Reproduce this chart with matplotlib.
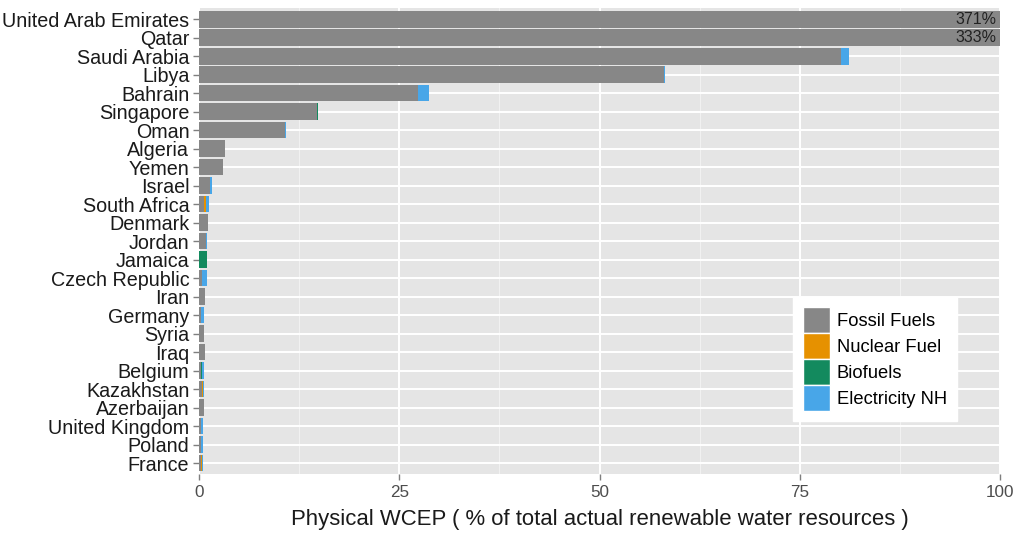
import numpy as np
import matplotlib.pyplot as plt
from matplotlib.patches import Patch

plt.rcParams['font.family'] = ['Liberation Sans', 'DejaVu Sans']

# Data (top to bottom)
countries = ['United Arab Emirates', 'Qatar', 'Saudi Arabia', 'Libya', 'Bahrain',
             'Singapore', 'Oman', 'Algeria', 'Yemen', 'Israel', 'South Africa',
             'Denmark', 'Jordan', 'Jamaica', 'Czech Republic', 'Iran', 'Germany',
             'Syria', 'Iraq', 'Belgium', 'Kazakhstan', 'Azerbaijan',
             'United Kingdom', 'Poland', 'France']
fossil = [370.0, 332.0, 80.1, 58.0, 27.3, 14.7, 10.7, 3.2, 2.95, 1.37, 0.62,
          1.16, 0.87, 0.0, 0.41, 0.79, 0.25, 0.62, 0.70, 0.25, 0.33, 0.62,
          0.30, 0.25, 0.20]
nuclear = [0, 0, 0, 0, 0, 0, 0, 0, 0, 0, 0.25, 0, 0, 0, 0, 0, 0, 0, 0, 0,
           0.22, 0, 0, 0, 0.13]
biofuels = [0, 0, 0, 0, 0, 0.2, 0, 0, 0, 0, 0, 0, 0, 1.04, 0, 0, 0, 0, 0,
            0.15, 0, 0, 0, 0, 0]
electricity = [1.0, 1.0, 1.0, 0.2, 1.45, 0, 0.2, 0.05, 0, 0.29, 0.38, 0,
               0.13, 0, 0.63, 0, 0.41, 0, 0, 0.22, 0.07, 0, 0.2, 0.3, 0.17]
totals_label = ['371%', '333%']

series = [('Fossil Fuels', fossil, '#878787'),
          ('Nuclear Fuel', nuclear, '#E69100'),
          ('Biofuels', biofuels, '#138A5E'),
          ('Electricity NH', electricity, '#48A6E8')]

fig = plt.figure(figsize=(10.16, 5.4), dpi=100)
ax = fig.add_axes([0.1959, 0.122, 0.7884, 0.863])
ax.set_facecolor('#E5E5E5')

y = np.arange(len(countries))
left = np.zeros(len(countries))
for name, vals, col in series:
    vals = np.array(vals, dtype=float)
    ax.barh(y, vals, left=left, height=0.9, color=col, edgecolor='none', zorder=3)
    left += vals

for i, lab in enumerate(totals_label):
    ax.text(99.6, y[i], lab, ha='right', va='center', fontsize=11.5,
            color='#222222', zorder=4)

ax.set_xlim(0, 100)
ax.set_ylim(len(countries) - 0.4, -0.6)
ax.set_yticks(y)
ax.set_yticklabels(countries, fontsize=14.2, color='#1a1a1a')
ax.set_xticks([0, 25, 50, 75, 100])
ax.set_xticklabels(['0', '25', '50', '75', '100'], fontsize=12.3, color='#4d4d4d')
ax.set_xticks([12.5, 37.5, 62.5, 87.5], minor=True)
ax.tick_params(axis='both', which='major', color='#7f7f7f', length=4, width=1)
ax.tick_params(axis='y', which='major', pad=3)
ax.tick_params(axis='x', which='minor', length=0)
ax.grid(True, which='major', axis='both', color='white', linewidth=1.4, zorder=1)
ax.grid(True, which='minor', axis='x', color='#F2F2F2', linewidth=0.7, zorder=1)
for s in ax.spines.values():
    s.set_visible(False)

ax.set_xlabel('Physical WCEP ( % of total actual renewable water resources )',
              fontsize=15.9, color='#1a1a1a', labelpad=7)

handles = [Patch(facecolor=c, edgecolor='white', label=n) for n, _, c in series]
leg = ax.legend(handles=handles, loc='lower right', bbox_to_anchor=(0.946, 0.114),
                fontsize=13.2, frameon=True, fancybox=False, framealpha=1,
                edgecolor='white', handlelength=1.5, handleheight=1.81,
                handletextpad=0.35, labelspacing=0.0, borderpad=0.55,
                borderaxespad=0)

fig.savefig('out.png', dpi=100)
